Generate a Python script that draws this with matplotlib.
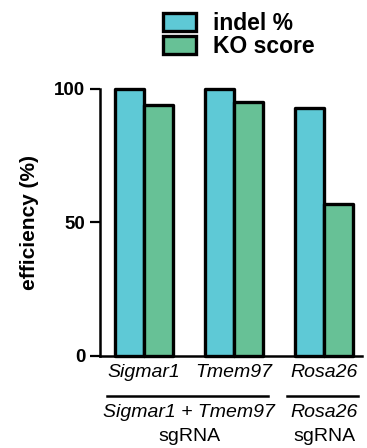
import numpy as np
import matplotlib
matplotlib.use("Agg")
import matplotlib.pyplot as plt
from matplotlib.patches import Patch

plt.rcParams['font.family'] = ['Liberation Sans', 'DejaVu Sans']

genes = ["Sigmar1", "Tmem97", "Rosa26"]
indel = [100, 100, 93]
ko_score = [94, 95, 57]
series_names = ["indel %", "KO score"]
group_labels = ["Sigmar1 + Tmem97", "Rosa26"]
group_spans = [(0, 1), (2, 2)]

CYAN = "#5ec9d6"
GREEN = "#67c196"

fig = plt.figure(figsize=(3.67, 4.48), dpi=100)
ax = fig.add_axes([100/367, 1 - 356/448, 262/367, 267/448])

x = np.arange(len(genes))
w = 0.32
for xs, vals, col in [(x - w/2, indel, CYAN), (x + w/2, ko_score, GREEN)]:
    bars = ax.bar(xs, vals, w, color=col, edgecolor="black", linewidth=2.4,
                  clip_on=False, zorder=3)
    for b in bars:
        b.set_joinstyle("round")

ax.set_xlim(-0.49, 2.42)
ax.set_ylim(0, 100)
ax.set_yticks([0, 50, 100])
ax.set_yticklabels(["0", "50", "100"], fontsize=13.5, fontweight="bold")
ax.set_ylabel("efficiency (%)", fontsize=15, fontweight="bold", labelpad=11)

ax.set_xticks(x)
ax.set_xticklabels(genes, fontsize=14, fontstyle="italic")
ax.tick_params(axis="x", length=0, pad=6)
ax.tick_params(axis="y", length=7, width=1.6, direction="out")

for s in ["top", "right"]:
    ax.spines[s].set_visible(False)
ax.spines["left"].set_linewidth(1.8)
ax.spines["bottom"].set_linewidth(1.8)

# group brackets under the gene names
trans = ax.get_xaxis_transform()
for (a, b), lab in zip(group_spans, group_labels):
    ax.plot([a - 0.41, b + 0.38], [-0.148, -0.148], color="black", lw=1.8,
            transform=trans, clip_on=False)
    cx = (a + b) / 2
    ax.text(cx, -0.213, lab, transform=trans, ha="center", va="center",
            fontsize=14, fontstyle="italic")
    ax.text(cx, -0.3, "sgRNA", transform=trans, ha="center", va="center",
            fontsize=14)

handles = [Patch(facecolor=CYAN, edgecolor="black", linewidth=2.4, joinstyle="round"),
           Patch(facecolor=GREEN, edgecolor="black", linewidth=2.4, joinstyle="round")]
leg = fig.legend(handles, series_names, loc="upper left",
                 bbox_to_anchor=(163/367, 1 - 12/448), frameon=False,
                 borderpad=0, borderaxespad=0, handlelength=1.45, handleheight=0.8,
                 handletextpad=0.75, labelspacing=0.0,
                 prop={"size": 16.5, "weight": "bold"})

fig.savefig("out.png", dpi=100)
